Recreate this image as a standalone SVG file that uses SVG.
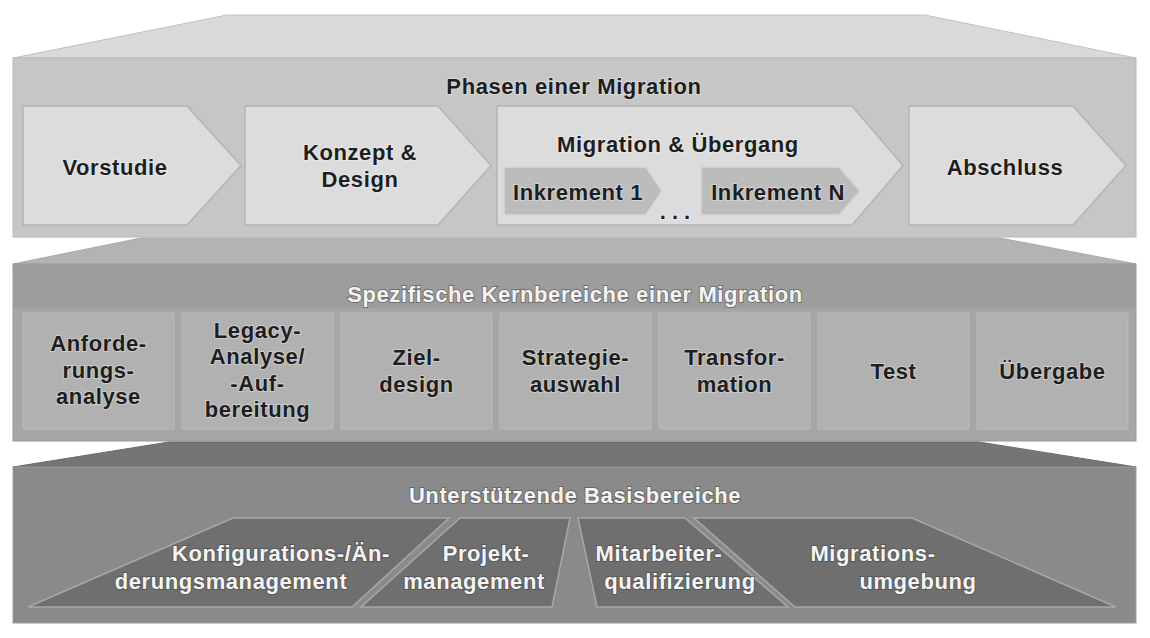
<svg xmlns="http://www.w3.org/2000/svg" width="1150" height="638" viewBox="0 0 1150 638">
  <style>
    text { font-family: "Liberation Sans", Arial, Helvetica, sans-serif; font-weight: bold; font-size: 22px; letter-spacing: 0.6px; text-anchor: middle; }
    .dk { fill: #1e1e1e; stroke: #ffffff; stroke-opacity: 0.35; stroke-width: 2px; paint-order: stroke; }
    .lt { fill: #f4f4f4; stroke: #3a3a3a; stroke-opacity: 0.45; stroke-width: 2px; paint-order: stroke; }
    .chev { fill: #dcdcdc; stroke: #b4b4b4; stroke-width: 1.5; }
    .inc { fill: #bcbcbc; stroke: #d6d6d6; stroke-width: 1.5; }
    .box { fill: #b1b1b1; stroke: #bababa; stroke-width: 1; }
    .base { fill: #6f6f6f; stroke: #a8a8a8; stroke-width: 1.5; }
  </style>

  <rect width="1150" height="638" fill="#ffffff"/>

  <!-- Layer 1: Phasen einer Migration -->
  <g id="layer-phasen">
    <polygon points="227,15 925,15 1136,58 13,58" fill="#d9d9d9" stroke="#c2c2c2" stroke-width="1"/>
    <rect x="13" y="58" width="1123" height="179" fill="#c6c6c6" stroke="#b8b8b8" stroke-width="1"/>
    <text class="dk" x="574" y="94">Phasen einer Migration</text>
  </g>

  <g id="node-vorstudie">
    <path class="chev" d="M23,106 H187 L241,165.5 L187,225 H23 Z"/>
    <text class="dk" x="115" y="175">Vorstudie</text>
  </g>

  <g id="node-konzept">
    <path class="chev" d="M245,106 H438 L491,165.5 L438,225 H245 Z"/>
    <text class="dk" x="360" y="160">Konzept &amp;</text>
    <text class="dk" x="360" y="187">Design</text>
  </g>

  <g id="node-migration">
    <path class="chev" d="M497,106 H852 L903,165.5 L852,225 H497 Z"/>
    <text class="dk" x="678" y="152">Migration &amp; Übergang</text>
  </g>

  <g id="node-inkrement-1">
    <path class="inc" d="M504,167 H646 L662,191 L646,215 H504 Z"/>
    <text class="dk" x="578" y="200">Inkrement 1</text>
  </g>

  <g id="node-ellipsis">
    <text class="dk" x="678" y="219" style="letter-spacing:6px">...</text>
  </g>

  <g id="node-inkrement-n">
    <path class="inc" d="M701,167 H839 L860,191 L839,215 H701 Z"/>
    <text class="dk" x="778" y="200">Inkrement N</text>
  </g>

  <g id="node-abschluss">
    <path class="chev" d="M909,106 H1073 L1126,165.5 L1073,225 H909 Z"/>
    <text class="dk" x="1005" y="175">Abschluss</text>
  </g>

  <!-- Layer 2: Spezifische Kernbereiche -->
  <g id="layer-kern">
    <polygon points="141,238 1000,238 1136,264 13,264" fill="#b3b3b3" stroke="#a8a8a8" stroke-width="1"/>
    <rect x="13" y="264" width="1123" height="177" fill="#a6a6a6" stroke="#9a9a9a" stroke-width="1"/>
    <rect x="13.5" y="264.5" width="1122" height="44" fill="#9d9d9d"/>
    <text class="lt" x="575" y="302">Spezifische Kernbereiche einer Migration</text>
  </g>

  <g id="node-anforderung">
    <rect class="box" x="23" y="313" width="151" height="116"/>
    <text class="dk" x="98.5" y="351">Anforde-</text>
    <text class="dk" x="98.5" y="378">rungs-</text>
    <text class="dk" x="98.5" y="404">analyse</text>
  </g>

  <g id="node-legacy">
    <rect class="box" x="182" y="313" width="151" height="116"/>
    <text class="dk" x="257.5" y="338">Legacy-</text>
    <text class="dk" x="257.5" y="364">Analyse/</text>
    <text class="dk" x="257.5" y="391">-Auf-</text>
    <text class="dk" x="257.5" y="417">bereitung</text>
  </g>

  <g id="node-zieldesign">
    <rect class="box" x="341" y="313" width="151" height="116"/>
    <text class="dk" x="416.5" y="365">Ziel-</text>
    <text class="dk" x="416.5" y="392">design</text>
  </g>

  <g id="node-strategie">
    <rect class="box" x="500" y="313" width="151" height="116"/>
    <text class="dk" x="575.5" y="365">Strategie-</text>
    <text class="dk" x="575.5" y="392">auswahl</text>
  </g>

  <g id="node-transformation">
    <rect class="box" x="659" y="313" width="151" height="116"/>
    <text class="dk" x="734.5" y="365">Transfor-</text>
    <text class="dk" x="734.5" y="392">mation</text>
  </g>

  <g id="node-test">
    <rect class="box" x="818" y="313" width="151" height="116"/>
    <text class="dk" x="893.5" y="379">Test</text>
  </g>

  <g id="node-uebergabe">
    <rect class="box" x="977" y="313" width="151" height="116"/>
    <text class="dk" x="1052.5" y="379">Übergabe</text>
  </g>

  <!-- Layer 3: Unterstützende Basisbereiche -->
  <g id="layer-basis">
    <polygon points="169,442 979,442 1136,467 13,467" fill="#757575" stroke="#6a6a6a" stroke-width="1"/>
    <rect x="13" y="467" width="1123" height="156" fill="#8a8a8a" stroke="#9c9c9c" stroke-width="1"/>
    <text class="lt" x="575" y="503">Unterstützende Basisbereiche</text>
  </g>

  <g id="node-konfiguration">
    <polygon class="base" points="233,518 449,518 352,607 28,607"/>
    <text class="lt" x="281" y="561">Konfigurations-/Än-</text>
    <text class="lt" x="231" y="589">derungsmanagement</text>
  </g>

  <g id="node-projekt">
    <polygon class="base" points="460,518 570,518 552,607 361,607"/>
    <text class="lt" x="486" y="561">Projekt-</text>
    <text class="lt" x="474" y="589">management</text>
  </g>

  <g id="node-mitarbeiter">
    <polygon class="base" points="578,518 685,518 788,607 597,607"/>
    <text class="lt" x="659" y="561">Mitarbeiter-</text>
    <text class="lt" x="680" y="589">qualifizierung</text>
  </g>

  <g id="node-umgebung">
    <polygon class="base" points="694,518 912,518 1116,607 795,607"/>
    <text class="lt" x="873" y="561">Migrations-</text>
    <text class="lt" x="918" y="589">umgebung</text>
  </g>

  <g id="connectors"/>
</svg>
